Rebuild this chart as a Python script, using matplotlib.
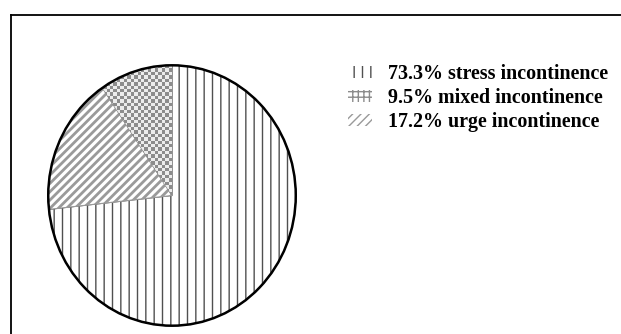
import numpy as np
import matplotlib
matplotlib.use('Agg')
import matplotlib.pyplot as plt
from matplotlib.patches import Patch, Ellipse
from matplotlib.lines import Line2D

# pie slices in clockwise order from the top
sizes = [73.3, 17.2, 9.5]
names = ['stress incontinence', 'urge incontinence', 'mixed incontinence']
hatches = ['||', '////', None]
hatch_cols = ['#505050', '#9a9a9a', '#8c8c8c']
legend_order = [0, 2, 1]

W, H = 621, 334
fig = plt.figure(figsize=(W / 100, H / 100), dpi=100)

# outer frame (cut off at right and bottom)
fx, fy = 11 / W, 1 - 15 / H
fig.add_artist(Line2D([fx, fx], [fy, -0.1], color='black', lw=1.3, transform=fig.transFigure))
fig.add_artist(Line2D([fx, 1.1], [fy, fy], color='black', lw=1.3, transform=fig.transFigure))

ax = fig.add_axes([47 / W, (H - 327) / H, 250 / W, 263 / H])
wedges, _ = ax.pie(sizes, startangle=90, counterclock=False, radius=1,
                   wedgeprops=dict(linewidth=0.8, facecolor='white'))
for w, h, c in zip(wedges, hatches, hatch_cols):
    w.set_edgecolor(c)
    if h:
        w.set_hatch(h)
        if hasattr(w, 'set_hatch_linewidth'):
            w.set_hatch_linewidth(1.0 if h == '||' else 2.0)

# checkerboard texture for the mixed slice
nx, ny = 72, 76
chk = (np.add.outer(np.arange(ny), np.arange(nx)) % 2).astype(float)
im = ax.imshow(chk, cmap=matplotlib.colors.ListedColormap(['#8c8c8c', '#ececec']),
               extent=[-1, 1, -1, 1], interpolation='nearest', zorder=2)
im.set_clip_path(wedges[2])

ax.add_patch(Ellipse((0, 0), 2, 2, facecolor='none', edgecolor='black', lw=1.8, zorder=5))
ax.set_xlim(-1.01, 1.01)
ax.set_ylim(-1.01, 1.01)
ax.set_aspect('auto')
ax.axis('off')

handles = []
labels = []
leg_hatch = ['||', '////', '+++']
for i in legend_order:
    handles.append(Patch(facecolor='white', edgecolor=hatch_cols[i], hatch=leg_hatch[i], lw=0))
    labels.append(f'{sizes[i]}% {names[i]}')

leg = fig.legend(handles, labels, loc='upper left', bbox_to_anchor=(348 / W, 1 - 64 / H),
                 frameon=False, prop={'family': 'Liberation Serif', 'weight': 'bold', 'size': 14.4},
                 handlelength=1.2, handleheight=0.6, handletextpad=0.8, labelspacing=0.2,
                 borderpad=0, borderaxespad=0)

fig.savefig('out.png', dpi=100, facecolor='white')
